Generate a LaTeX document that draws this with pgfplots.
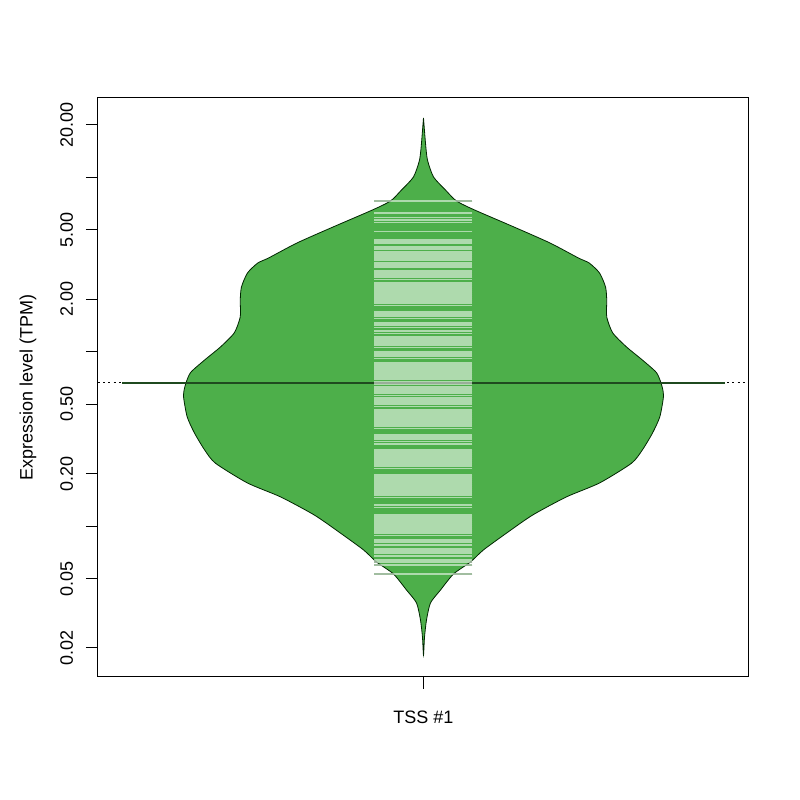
\documentclass[border=0pt]{standalone}
\usepackage{pgfplots}
\pgfplotsset{compat=1.18}
\usepackage{pgfplotstable}
\usepackage{fontspec}
\setmainfont{Liberation Sans}

\definecolor{beanGreen}{HTML}{4DAF4A}
\definecolor{medianGreen}{HTML}{1F4A1F}
\definecolor{rugOut}{HTML}{2F6E2D}

% bean outline as one closed polygon: x, log10(TPM)
% right side from top tip down, then left side back up
\pgfplotstableread{
x L
1 1.341
1.0033 1.198
1.0066 1.100
1.0166 1.003
1.0365 0.928
1.0547 0.865
1.085 0.813
1.150 0.716
1.210 0.624
1.257 0.538
1.275 0.509
1.292 0.452
1.302 0.372
1.304 0.297
1.304 0.200
1.314 0.108
1.337 0.027
1.363 -0.047
1.387 -0.122
1.396 -0.202
1.398 -0.260
1.392 -0.374
1.380 -0.466
1.363 -0.564
1.345 -0.640
1.292 -0.753
1.237 -0.833
1.181 -0.937
1.138 -1.040
1.0995 -1.137
1.078 -1.206
1.0498 -1.275
1.0282 -1.367
1.0116 -1.441
1.005 -1.539
1.0017 -1.637
1 -1.740
0.9983 -1.637
0.995 -1.539
0.9884 -1.441
0.9718 -1.367
0.9502 -1.275
0.922 -1.206
0.9005 -1.137
0.862 -1.040
0.819 -0.937
0.763 -0.833
0.708 -0.753
0.655 -0.640
0.637 -0.564
0.620 -0.466
0.608 -0.374
0.602 -0.260
0.604 -0.202
0.613 -0.122
0.637 -0.047
0.663 0.027
0.686 0.108
0.696 0.200
0.696 0.297
0.698 0.372
0.708 0.452
0.725 0.509
0.743 0.538
0.790 0.624
0.850 0.716
0.915 0.813
0.9453 0.865
0.9635 0.928
0.9834 1.003
0.9934 1.100
0.9967 1.198
}\bean

% single observations, log10(TPM)
\pgfplotstableread{
L
0.865
0.796
0.770
0.756
0.742
0.690
0.641
0.633
0.624
0.601
0.590
0.572
0.561
0.549
0.538
0.526
0.509
0.498
0.486
0.463
0.452
0.440
0.429
0.415
0.395
0.383
0.372
0.360
0.349
0.337
0.326
0.314
0.303
0.291
0.280
0.265
0.228
0.217
0.205
0.191
0.165
0.154
0.139
0.119
0.105
0.085
0.073
0.062
0.050
0.039
0.024
-0.001
-0.013
-0.024
-0.039
-0.064
-0.076
-0.087
-0.099
-0.110
-0.122
-0.133
-0.145
-0.156
-0.173
-0.185
-0.202
-0.214
-0.225
-0.237
-0.251
-0.265
-0.277
-0.288
-0.300
-0.314
-0.334
-0.346
-0.357
-0.369
-0.380
-0.391
-0.403
-0.414
-0.426
-0.440
-0.478
-0.489
-0.500
-0.515
-0.529
-0.564
-0.575
-0.587
-0.598
-0.609
-0.621
-0.632
-0.644
-0.655
-0.670
-0.707
-0.718
-0.730
-0.741
-0.753
-0.764
-0.776
-0.787
-0.799
-0.810
-0.822
-0.836
-0.879
-0.893
-0.937
-0.948
-0.959
-0.971
-0.982
-0.994
-1.005
-1.017
-1.028
-1.040
-1.054
-1.080
-1.091
-1.109
-1.132
-1.143
-1.155
-1.172
-1.195
-1.206
-1.223
-1.275
}\rug

\begin{document}
\begin{tikzpicture}
\begin{axis}[
    scale only axis,
    width=325.5pt, height=289.5pt,
    xmin=0.46, xmax=1.54,
    ymin=-1.866, ymax=1.456,
    clip marker paths=true,
    axis line style={line width=0.5pt},
    tick style={black, line width=0.5pt},
    tick align=outside,
    major tick length=6pt,
    xtick pos=bottom, ytick pos=left,
    xtick={1}, xticklabels={TSS \#1},
    ytick={1.30103,1,0.69897,0.30103,0,-0.30103,-0.69897,-1,-1.30103,-1.69897},
    yticklabels={20.00,,5.00,2.00,,0.50,0.20,,0.05,0.02},
    yticklabel style={rotate=90, anchor=south},
    yticklabel shift=3pt,
    xticklabel shift=7.5pt,
    tick label style={font=\fontsize{9}{11}\selectfont},
    label style={font=\fontsize{9}{11}\selectfont},
    ylabel={Expression level (TPM)},
    ylabel style={at={(axis description cs:-0.1075,0.5)}, anchor=center},
]
% overall line
\addplot[black, line width=0.5pt, dash pattern=on 1pt off 1.6pt] coordinates {(0.46,-0.179) (1.54,-0.179)};
% observation lines (part outside the bean)
\addplot[only marks, mark=-, mark size=24.5pt, mark options={draw=rugOut, line width=0.6pt}] table[x expr=1, y=L] {\rug};
% bean
\addplot[fill=beanGreen, draw=black!85!green, line width=0.4pt, smooth, tension=0.4] table[x=x, y=L] {\bean} -- cycle;
% median
\addplot[medianGreen, line width=1.2pt] coordinates {(0.5,-0.179) (1.5,-0.179)};
% observation lines (inside the bean)
\addplot[only marks, mark=-, mark size=24.5pt, mark options={draw=white, draw opacity=0.55, line width=0.7pt}] table[x expr=1, y=L] {\rug};
\end{axis}
\pgfresetboundingbox
\path[use as bounding box] ([xshift=-49pt, yshift=-61.5pt]current axis.south west) rectangle ([xshift=25.5pt, yshift=49pt]current axis.north east);
\end{tikzpicture}
\end{document}
